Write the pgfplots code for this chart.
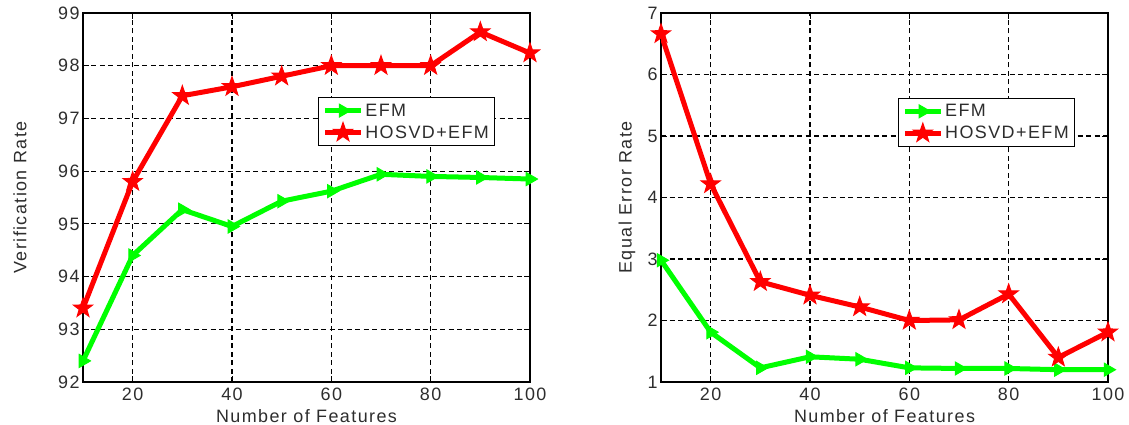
\documentclass[border=0pt]{standalone}
\usepackage{pgfplots}
\pgfplotsset{compat=1.18}
\usepackage{fontspec}
\setmainfont{Liberation Sans}
\newfontfamily\spaced[LetterSpace=8]{Liberation Sans}
\pgfdeclareplotmark{pentagram}{%
  \pgfpathmoveto{\pgfpointpolar{90}{\pgfplotmarksize}}%
  \pgfpathlineto{\pgfpointpolar{126}{0.4\pgfplotmarksize}}%
  \pgfpathlineto{\pgfpointpolar{162}{\pgfplotmarksize}}%
  \pgfpathlineto{\pgfpointpolar{198}{0.4\pgfplotmarksize}}%
  \pgfpathlineto{\pgfpointpolar{234}{\pgfplotmarksize}}%
  \pgfpathlineto{\pgfpointpolar{270}{0.4\pgfplotmarksize}}%
  \pgfpathlineto{\pgfpointpolar{306}{\pgfplotmarksize}}%
  \pgfpathlineto{\pgfpointpolar{342}{0.4\pgfplotmarksize}}%
  \pgfpathlineto{\pgfpointpolar{18}{\pgfplotmarksize}}%
  \pgfpathlineto{\pgfpointpolar{54}{0.4\pgfplotmarksize}}%
  \pgfpathclose
  \pgfusepathqfillstroke
}
\definecolor{mgreen}{RGB}{0,255,0}
\definecolor{mred}{RGB}{255,0,0}
\definecolor{txt}{RGB}{45,45,45}
\pgfplotsset{
  mystyle/.style={
    scale only axis,
    width=447bp, height=369bp,
    xmin=10, xmax=100,
    xtick={20,40,60,80,100},
    grid=major,
    major grid style={black, dashed, line width=1.1pt, dash pattern=on 5bp off 3.5bp},
    axis line style={black, line width=1.2pt},
    tick style={black, line width=1pt},
    major tick length=6bp,
    tick align=inside,
    xtick pos=both, ytick pos=both,
    ticklabel style={font=\spaced\fontsize{18}{20}\selectfont, text=txt},
    label style={font=\spaced\fontsize{18}{20}\selectfont, text=txt},
    /pgf/number format/assume math mode=true,
    xlabel={Number of Features},
    xlabel style={at={(axis description cs:0.5,0)}, anchor=center, yshift=-34bp},
    xticklabel style={yshift=-2bp},
    legend style={font=\spaced\fontsize{18}{21}\selectfont, text=txt, draw=black, line width=1.1pt,
      row sep=3bp, inner sep=4bp},
    legend cell align=left,
    legend image code/.code={%
      \draw[mark repeat=2,mark phase=2] plot coordinates {(0cm,0cm) (0.63cm,0cm) (1.26cm,0cm)};},
    efm/.style={mgreen, line width=5bp, mark=triangle*, mark size=7.5bp,
      mark options={rotate=-90, solid, line width=1bp}},
    hos/.style={mred, line width=5bp, mark=pentagram, mark size=10bp,
      mark options={solid, line width=1bp}},
  }
}
\begin{document}
\begin{tikzpicture}[x=1bp,y=1bp]
\path[use as bounding box] (-83bp,-43bp) rectangle (1046bp,382bp);
\begin{axis}[mystyle, at={(0bp,0bp)}, anchor=south west,
  ymin=92, ymax=99, ytick={92,93,94,95,96,97,98,99},
  ylabel={Verification Rate},
  ylabel style={at={(axis description cs:0,0.5)}, anchor=center, yshift=63bp},
  legend style={at={(0.526,0.772)}, anchor=north west}]
\addplot[efm] coordinates {(10,92.4) (20,94.4) (30,95.27) (40,94.95) (50,95.43) (60,95.62) (70,95.94) (80,95.9) (90,95.88) (100,95.85)};
\addlegendentry{EFM}
\addplot[hos] coordinates {(10,93.4) (20,95.8) (30,97.43) (40,97.6) (50,97.8) (60,98.0) (70,98.0) (80,98.0) (90,98.64) (100,98.24)};
\addlegendentry{HOSVD+EFM}
\end{axis}
\begin{axis}[mystyle, at={(578bp,0bp)}, anchor=south west,
  ymin=1, ymax=7, ytick={1,2,3,4,5,6,7},
  ylabel={Equal Error Rate},
  ylabel style={at={(axis description cs:0,0.5)}, anchor=center, yshift=34bp},
  legend style={at={(0.53,0.77)}, anchor=north west}]
\addplot[efm] coordinates {(10,2.98) (20,1.81) (30,1.23) (40,1.41) (50,1.37) (60,1.23) (70,1.22) (80,1.22) (90,1.2) (100,1.2)};
\addlegendentry{EFM}
\addplot[hos] coordinates {(10,6.66) (20,4.22) (30,2.63) (40,2.41) (50,2.22) (60,2.0) (70,2.01) (80,2.43) (90,1.4) (100,1.81)};
\addlegendentry{HOSVD+EFM}
\end{axis}
\end{tikzpicture}
\end{document}
